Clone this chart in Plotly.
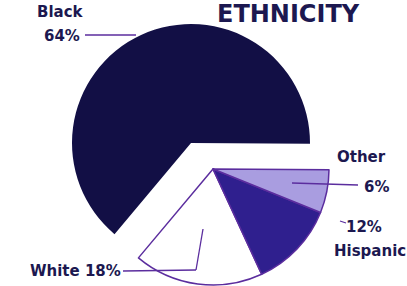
import plotly.graph_objects as go

categories = ["Black", "White", "Hispanic", "Other"]
values = [64, 18, 12, 6]
slice_colors = ["#120f45", "#ffffff", "#2f1f8e", "#a99de0"]
title_text = "ETHNICITY"

W, H = 407, 286
TXT = "#1c1850"
OUT = "#5b2d9e"
CLEAR = "rgba(0,0,0,0)"


def dom(cx, cy, r):
    return dict(x=[(cx - r) / W, (cx + r) / W], y=[1 - (cy + r) / H, 1 - (cy - r) / H])


c_main = [slice_colors[0]] + [CLEAR] * 3
c_grp = [CLEAR] + slice_colors[1:]

fig = go.Figure()
fig.add_trace(go.Pie(labels=categories, values=values, sort=False, direction="counterclockwise",
                     rotation=220, marker=dict(colors=c_main, line=dict(color=CLEAR, width=0)),
                     textinfo="none", hoverinfo="skip", showlegend=False, domain=dom(191, 143, 119)))
fig.add_trace(go.Pie(labels=categories, values=values, sort=False, direction="counterclockwise",
                     rotation=220, marker=dict(colors=c_grp, line=dict(color=[CLEAR, OUT, OUT, OUT], width=[0, 1.5, 1.5, 1.5])),
                     textinfo="none", hoverinfo="skip", showlegend=False, domain=dom(213, 169, 116)))

font_b = dict(family="DejaVu Sans", color=TXT, weight="bold")
ann = []
def A(x, y, t, size, xa="center"):
    ann.append(dict(x=x / W, y=1 - y / H, xref="paper", yref="paper", text=t,
                    showarrow=False, xanchor=xa, yanchor="middle", font=dict(size=size, **font_b)))

A(288, 14, title_text, 24)
A(61, 12, categories[0], 15)
A(62, 36, "%d%%" % values[0], 15)
A(361, 157, categories[3], 15)
A(376, 187, "%d%%" % values[3], 15)
A(364, 227, "%d%%" % values[2], 15)
A(370, 251, categories[2], 15)
A(75, 271, "%s %d%%" % (categories[1], values[1]), 15)

def L(x0, y0, x1, y1, color=OUT):
    return dict(type="line", xref="paper", yref="paper", x0=x0 / W, y0=1 - y0 / H, x1=x1 / W, y1=1 - y1 / H,
                line=dict(color=color, width=1.3))

shapes = [
    L(85, 35, 136, 35),
    L(292, 183, 358, 185),
    L(340, 221, 346, 223),
    L(123, 271, 196, 270),
    L(196, 270, 203, 229),
]

fig.update_layout(width=W, height=H, margin=dict(l=0, r=0, t=0, b=0), paper_bgcolor="white",
                  plot_bgcolor="white", annotations=ann, shapes=shapes)
fig.write_html("out.html", config={"displayModeBar": False},
               post_script="document.body.style.margin='0px';")
